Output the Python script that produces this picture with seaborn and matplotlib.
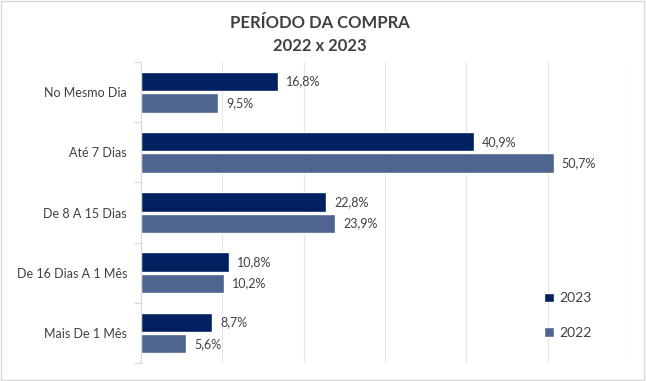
import matplotlib
matplotlib.use("Agg")
import matplotlib.pyplot as plt
import seaborn as sns
import pandas as pd
from matplotlib.patches import Rectangle
from matplotlib.ticker import MultipleLocator, FixedLocator

categorias = ["No Mesmo Dia", "Até 7 Dias", "De 8 A 15 Dias", "De 16 Dias A 1 Mês", "Mais De 1 Mês"]
valores_2023 = [16.8, 40.9, 22.8, 10.8, 8.7]
valores_2022 = [9.5, 50.7, 23.9, 10.2, 5.6]
anos = ["2023", "2022"]
cores = {"2023": "#002060", "2022": "#4D6590"}

df = pd.DataFrame({
    "categoria": categorias * 2,
    "valor": valores_2023 + valores_2022,
    "ano": ["2023"] * len(categorias) + ["2022"] * len(categorias),
})

sns.set_theme(style="white")
plt.rcParams["font.family"] = ["Lato", "DejaVu Sans"]

fig = plt.figure(figsize=(6.46, 3.81), dpi=100)
ax = fig.add_axes([0.218, 0.047, 0.756, 0.79])

sns.barplot(data=df, y="categoria", x="valor", hue="ano", hue_order=anos,
            order=categorias, palette=cores, orient="h", width=0.71, gap=0.1,
            saturation=1, ax=ax)

# rótulos com vírgula decimal
for cont in ax.containers:
    ax.bar_label(cont, labels=[f"{v:.1f}%".replace(".", ",") for v in cont.datavalues],
                 padding=6, fontsize=9, color="#404040")

ax.set_xlim(0, 60)
ax.set_ylim(len(categorias) - 0.5, -0.5)
ax.xaxis.set_major_locator(MultipleLocator(10))
ax.grid(axis="x", color="#E6E6E6", linewidth=0.8)
ax.set_xticklabels([])
ax.tick_params(axis="x", length=0)
ax.set_xlabel("")
ax.set_ylabel("")
ax.tick_params(axis="y", length=0, labelsize=9, labelcolor="#404040", pad=10)
ax.yaxis.set_minor_locator(FixedLocator([i - 0.5 for i in range(len(categorias) + 1)]))
ax.tick_params(axis="y", which="minor", length=5, color="#D9D9D9", width=0.8, left=True)
for lado in ["top", "right", "bottom"]:
    ax.spines[lado].set_visible(False)
ax.spines["left"].set_color("#D9D9D9")
ax.spines["left"].set_linewidth(0.8)

ax.legend(loc="lower left", bbox_to_anchor=(0.8, 0.04), frameon=False,
          fontsize=10, labelspacing=1.6, handlelength=0.7, handleheight=0.7,
          handletextpad=0.4, labelcolor="#404040")

fig.text(0.495, 0.94, "PERÍODO DA COMPRA", ha="center", va="center",
         fontsize=12, fontweight="bold", color="#404040")
fig.text(0.495, 0.88, "2022 x 2023", ha="center", va="center",
         fontsize=12, fontweight="bold", color="#404040")

fig.patches.append(Rectangle((0.002, 0.003), 0.995, 0.994, transform=fig.transFigure,
                             fill=False, edgecolor="#D9D9D9", linewidth=1))

fig.savefig("out.png", dpi=100)
